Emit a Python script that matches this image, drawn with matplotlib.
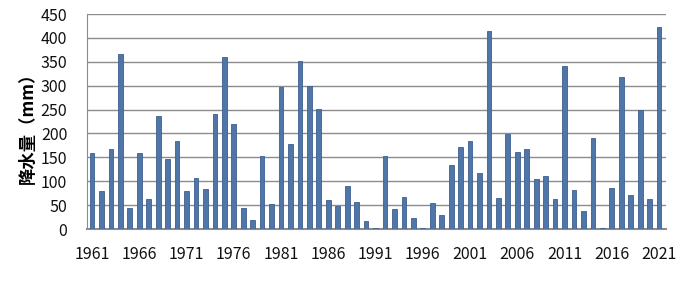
import matplotlib
matplotlib.use("Agg")
import matplotlib.pyplot as plt

plt.rcParams['font.family'] = ['Noto Sans CJK SC', 'DejaVu Sans']

years = list(range(1961, 2022))
rainfall = [159, 80, 167, 366, 44, 160, 63, 236, 147, 185,
            80, 106, 84, 241, 361, 219, 45, 18, 153, 53,
            298, 177, 352, 300, 251, 60, 49, 91, 57, 16,
            3, 153, 41, 68, 23, 2, 54, 30, 135, 172,
            185, 118, 414, 65, 199, 161, 168, 104, 110, 62,
            342, 82, 37, 190, 3, 85, 318, 72, 249, 63,
            422]
tick_years = list(range(1961, 2022, 5))
yticks = list(range(0, 451, 50))
ylabel = "降水量（mm）"

fig = plt.figure(figsize=(7.0, 2.81), dpi=100)
ax = fig.add_axes([0.124, 0.185, 0.827, 0.765])

ax.bar(years, rainfall, width=0.5, color='#4f76a8', edgecolor='#3d5f8e', linewidth=0.6, zorder=3)

ax.set_xlim(1960.45, 2021.7)
ax.set_ylim(0, 450)
ax.set_yticks(yticks)
ax.set_xticks(tick_years)
ax.set_xticklabels([str(y) for y in tick_years])
ax.yaxis.grid(True, color='#8c8c8c', linewidth=1.0, zorder=0)
ax.tick_params(axis='both', length=0, labelsize=11.5, colors='#111111')
ax.tick_params(axis='y', pad=14)
ax.tick_params(axis='x', pad=12)

for s in ['top', 'right']:
    ax.spines[s].set_visible(False)
ax.spines['left'].set_color('#8c8c8c')
ax.spines['bottom'].set_color('#8c8c8c')
ax.spines['bottom'].set_linewidth(1.5)

fig.text(0.04, 0.56, ylabel, rotation=90, ha='center', va='center', fontsize=12.5, fontweight='bold')

fig.savefig("out.png", dpi=100, facecolor='white')
